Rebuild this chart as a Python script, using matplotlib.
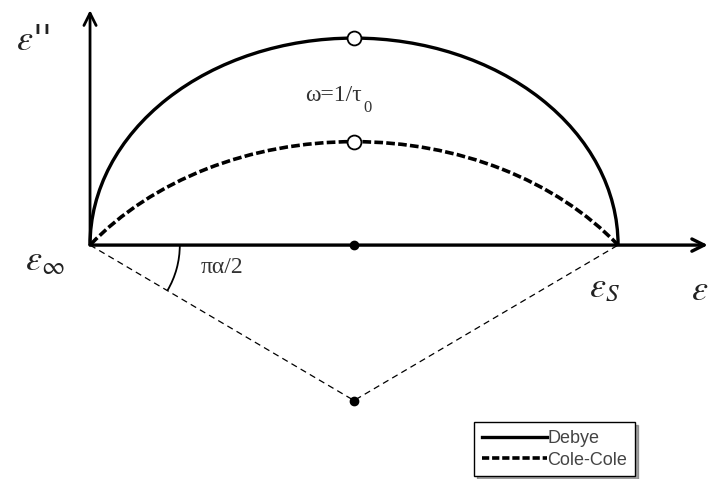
import numpy as np
import matplotlib
matplotlib.use("Agg")
import matplotlib.pyplot as plt
from matplotlib.patches import Arc

plt.rcParams['mathtext.fontset'] = 'stix'

# valores del diagrama (normalizados)
eps_inf = 0.0
eps_s = 2.0
alpha = 0.41
etiquetas_leyenda = ['Debye', 'Cole-Cole']

centro = (eps_inf + eps_s) / 2
radio_debye = (eps_s - eps_inf) / 2
prof_cc = radio_debye * np.tan(alpha * np.pi / 2)      # centro del arco Cole-Cole bajo el eje
radio_cc = np.hypot(radio_debye, prof_cc)
tope_cc = radio_cc - prof_cc
ang_cc = np.degrees(np.arctan2(prof_cc, radio_debye))

fig = plt.figure(figsize=(7.11, 4.79), dpi=100)
ax = fig.add_axes([0, 0, 1, 1])
ax.set_xlim(-0.341, 2.352)
ax.set_ylim(-1.130, 1.184)
ax.axis('off')

# ejes con flechas
ax.annotate('', xy=(2.34, 0), xytext=(eps_inf, 0),
            arrowprops=dict(arrowstyle='->', lw=2.4, color='black', mutation_scale=22,
                            shrinkA=0, shrinkB=0))
ax.annotate('', xy=(eps_inf, 1.135), xytext=(eps_inf, 0),
            arrowprops=dict(arrowstyle='->', lw=2.0, color='black', mutation_scale=22,
                            shrinkA=0, shrinkB=0))

# semicirculo de Debye
ax.add_patch(Arc((centro, 0), 2 * radio_debye, 2 * radio_debye, theta1=0, theta2=180,
                 lw=2.4, color='black'))
# arco Cole-Cole
ax.add_patch(Arc((centro, -prof_cc), 2 * radio_cc, 2 * radio_cc, theta1=ang_cc, theta2=180 - ang_cc,
                 lw=2.6, color='black', linestyle=(0, (2.4, 0.9))))

# lineas al centro del arco
ax.plot([eps_inf, centro, eps_s], [0, -prof_cc, 0], color='black', lw=0.9,
        linestyle=(0, (5, 3.5)))

# angulo pi*alpha/2
ax.add_patch(Arc((eps_inf, 0), 0.68, 0.68 * 264 / 207, theta1=-ang_cc, theta2=0,
                 lw=1.3, color='black'))

# puntos
ax.plot([centro], [radio_debye], 'o', ms=10, mfc='white', mec='black', mew=1.3, zorder=5)
ax.plot([centro], [tope_cc], 'o', ms=10, mfc='white', mec='black', mew=1.3, zorder=5)
ax.plot([centro, centro], [0, -prof_cc], 'o', ms=6, color='black', zorder=5)

# textos
ax.text(-0.216, 0.99, r"$\varepsilon$''", fontsize=26, family='DejaVu Serif', style='italic',
        ha='center', va='center', color='#222222')
ax.text(-0.17, -0.075, r"$\varepsilon_{\infty}$", fontsize=26, ha='center', va='center', color='#222222')
ax.text(1.95, -0.205, r"$\varepsilon_{S}$", fontsize=26, ha='center', va='center', color='#222222')
ax.text(2.31, -0.215, r"$\varepsilon$", fontsize=26, ha='center', va='center', color='#222222')
t_omega = ax.text(0.815, 0.725, 'ω=1/τ', fontsize=17, family='Liberation Serif', ha='left',
                  va='center', color='#333333')
ax.annotate('0', xy=(1, 0), xycoords=t_omega, xytext=(1, -2), textcoords='offset points',
            fontsize=12, family='Liberation Serif', ha='left', va='center', color='#333333')
ax.text(0.50, -0.11, 'πα/2', fontsize=17, family='Liberation Serif', ha='center', va='center',
        color='#333333')

# leyenda
l1, = ax.plot([], [], color='black', lw=2.4, label=etiquetas_leyenda[0])
l2, = ax.plot([], [], color='black', lw=2.6, linestyle=(0, (2.0, 0.8)), label=etiquetas_leyenda[1])
leg = ax.legend(handles=[l1, l2], loc='lower right', bbox_to_anchor=(0.893, 0.006),
                borderaxespad=0, prop={'family': 'Liberation Sans', 'size': 13}, handlelength=3.6,
                handletextpad=0.05, fancybox=False, shadow=True, edgecolor='black',
                framealpha=1, labelspacing=0.25, borderpad=0.42)
leg.get_frame().set_linewidth(1.0)
for t in leg.get_texts():
    t.set_color('#444444')

fig.savefig('out.png', dpi=100)
